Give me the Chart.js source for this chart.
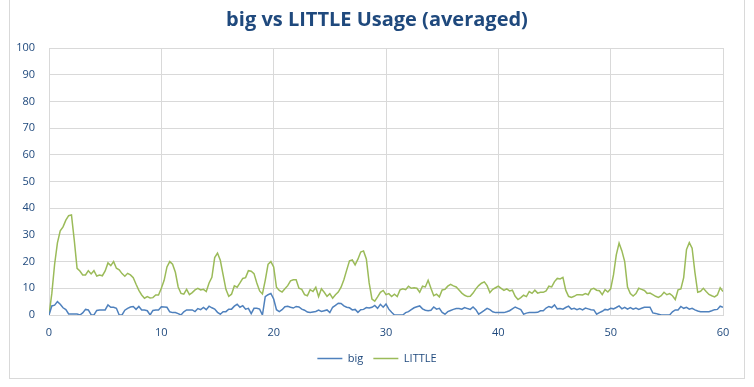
<!DOCTYPE html>
<html>
<head>
<meta charset="utf-8">
<title>big vs LITTLE Usage (averaged)</title>
<script src="https://cdn.jsdelivr.net/npm/chart.js@4/dist/chart.umd.min.js"></script>
<style>
  html, body { margin: 0; padding: 0; background: #fff; }
  #wrap { position: relative; width: 754px; height: 387px; }
  #frame {
    position: absolute; left: 9px; top: -1px; width: 734px; height: 378px;
    border: 1px solid #d9d9d9; pointer-events: none;
  }
  canvas { position: absolute; left: 0; top: 0; }
</style>
</head>
<body>
<div id="wrap">
  <canvas id="chart" width="754" height="387"></canvas>
  <div id="frame"></div>
</div>
<script>
/*jslint browser:true, indent:2*/
/*globals Chart*/
(function () {
  'use strict';

  // samples every 0.25 s, 0..60
  var sampleStep = 0.25;

  var bigUsage = [
    0, 3.4, 3.7, 5, 4, 2.7, 2, 0.4, 0.4, 0.4, 0.4, 0, 0.8, 2.1, 1.9, 0.1,
    0, 1.7, 1.9, 1.9, 1.9, 3.8, 2.9, 2.9, 2.5, 0, 0, 1.8, 2.5, 3, 3.2, 2.1,
    3.2, 1.9, 1.9, 1.6, 0, 1.7, 1.9, 1.9, 3.1, 3, 2.9, 1.2, 0.9, 0.9, 0.5, 0,
    1.2, 1.9, 1.9, 1.9, 1.3, 2.4, 2, 2.8, 2, 3.3, 2.7, 2.2, 1, 0.3, 1.25, 1.25,
    2.2, 2.2, 3.3, 4, 2.9, 3.5, 2.2, 2.5, 0.5, 2.5, 2.5, 2.2, 0, 6.9, 7.6, 8.1,
    6, 2, 1.3, 2, 3.1, 3.3, 2.9, 2.6, 3.2, 3, 2.2, 1.8, 1.1, 0.9, 1.1, 1.3,
    1.8, 1.3, 1.6, 1.9, 0.9, 2.9, 3.6, 4.4, 4.3, 3.4, 2.9, 2.7, 1.9, 2.1, 1, 2,
    2.1, 2.8, 2.6, 2.9, 3.6, 2.5, 4, 2.9, 4.1, 2.2, 1, 0, 0, 0, 0, 0.9,
    1.25, 2, 2.7, 3.1, 3.4, 2.3, 1.8, 1.6, 1.8, 3, 2.2, 2.5, 1, 0.3, 1.25, 1.7,
    2.1, 2.4, 2.4, 2.2, 2.8, 2.4, 2.1, 3, 2, 0.3, 1, 1.7, 2.5, 2, 1.2, 0.9,
    0.9, 0.9, 0.9, 1.2, 1.6, 2.3, 3, 2.5, 2, 0.3, 0.7, 0.9, 0.9, 0.9, 1, 1.6,
    1.6, 2.6, 3.2, 2.8, 3.8, 2.3, 2.4, 2.2, 2.8, 3.3, 2.2, 2.5, 2, 2.4, 1.9, 2.6,
    2.3, 2, 1.9, 0.3, 0.9, 1.4, 2.1, 1.9, 2.5, 2.3, 2.8, 3.4, 2.3, 2.9, 2.2, 2.8,
    2.2, 2.6, 2.1, 2.5, 2.9, 2.9, 2.9, 0.8, 0.6, 0.3, 0, 0, 0, 0, 1.2, 1.9,
    1.9, 3.2, 2.5, 2.9, 2.2, 2.5, 1.9, 1.5, 1.25, 1.25, 1.25, 1.25, 1.6, 2, 2.1, 3.3,
    2.9
  ];

  var littleUsage = [
    0, 8, 19, 27, 31.5, 33, 35.5, 37.2, 37.5, 28, 17.5, 16.5, 15, 15, 16.6, 15.4,
    16.6, 14.6, 15, 14.7, 16.5, 19.5, 18.5, 20, 17.5, 16.9, 15.5, 14.5, 15.6, 15, 14, 11.5,
    9.2, 7.5, 6.3, 6.9, 6.4, 6.5, 7.5, 7.5, 10, 13, 18, 20, 19, 16, 10.5, 8.1,
    7.8, 9.6, 7.6, 8.4, 9.4, 10, 9.4, 9.6, 8.8, 12, 14.1, 21.5, 23.2, 20.5, 15, 9.6,
    7, 7.8, 10.9, 10.4, 12, 13.7, 14, 16.6, 16.4, 15.5, 12, 9, 7.9, 13, 19, 20,
    18, 10.4, 9.2, 8.6, 9.8, 11, 12.8, 13.2, 13.2, 10, 9.6, 7.6, 7.2, 9.5, 8.8, 10.4,
    6.9, 9.8, 8.5, 7, 8, 6.3, 7.6, 8.6, 10.4, 13.2, 16.8, 20.3, 20.6, 18.8, 20.9, 23.6,
    24, 21, 12, 6, 5.2, 6.8, 8.5, 9.2, 7.6, 8, 6.9, 7.8, 6.9, 9.4, 9.8, 9.5,
    10.8, 10, 10.2, 10, 8.5, 10.8, 10.5, 13, 10, 7.2, 7.8, 6.8, 9.4, 9.6, 10.8, 11.5,
    10.9, 10.5, 9.4, 8.2, 7.4, 6.9, 7, 8.2, 9.8, 11, 11.9, 12.4, 11, 8.4, 9.6, 10.2,
    10.8, 10, 9.2, 9.8, 9, 9.3, 7, 5.8, 6.5, 7.4, 6.9, 8.8, 8.1, 9.3, 8.2, 8.5,
    8.5, 9, 10.8, 10.5, 12.5, 13.7, 13.5, 14.1, 9.3, 7, 6.6, 7, 7.6, 7.6, 7.5, 8,
    7.6, 9.6, 10, 9.3, 9.1, 7.6, 9.5, 8.6, 9.8, 15, 22.5, 26.9, 24, 20, 10.5, 8,
    7.1, 8, 10, 9.6, 9.2, 8.1, 8.2, 7.6, 7, 6.6, 7.2, 8.5, 7.6, 8, 7.2, 5.8,
    9.4, 9.8, 14, 24.5, 27.1, 25, 16, 8.5, 8.9, 10, 8.8, 7.7, 7.2, 6.8, 7.5, 10.2,
    8.8
  ];

  var xTicks = [0, 10, 20, 30, 40, 50, 60];
  var yTicks = [0, 10, 20, 30, 40, 50, 60, 70, 80, 90, 100];

  var textColor = '#1f497d';
  var gridColor = '#d9d9d9';
  var font = '"Open Sans", "Liberation Sans", sans-serif';

  function toPoints(values) {
    return values.map(function (v, i) {
      return {x: i * sampleStep, y: v};
    });
  }

  function fixedTicks(list) {
    return function (scale) {
      scale.ticks = list.map(function (v) { return {value: v}; });
    };
  }

  new Chart(document.getElementById('chart'), {
    type: 'line',
    data: {
      datasets: [{
        label: 'big',
        data: toPoints(bigUsage),
        borderColor: '#4f81bd',
        backgroundColor: '#4f81bd',
        borderWidth: 1.5,
        pointRadius: 0,
        pointStyle: 'line',
        tension: 0
      }, {
        label: 'LITTLE',
        data: toPoints(littleUsage),
        borderColor: '#9bbb59',
        backgroundColor: '#9bbb59',
        borderWidth: 1.5,
        pointRadius: 0,
        pointStyle: 'line',
        tension: 0
      }]
    },
    options: {
      responsive: false,
      animation: false,
      events: [],
      layout: {padding: {left: 0, right: 0, top: 0, bottom: 13}},
      plugins: {
        title: {
          display: true,
          text: 'big vs LITTLE Usage (averaged)',
          color: textColor,
          font: {family: font, size: 20, weight: 'bold', lineHeight: 1.2},
          padding: {top: 8, bottom: 16}
        },
        legend: {
          position: 'bottom',
          labels: {
            color: textColor,
            font: {family: font, size: 11},
            usePointStyle: true,
            pointStyleWidth: 25,
            padding: 10
          }
        },
        tooltip: {enabled: false}
      },
      scales: {
        x: {
          type: 'linear',
          min: 0,
          max: 60,
          afterBuildTicks: fixedTicks(xTicks),
          afterFit: function (scale) { scale.height = 28; },
          grid: {color: gridColor, drawTicks: false},
          border: {color: gridColor},
          ticks: {color: textColor, font: {family: font, size: 11}, padding: 11}
        },
        y: {
          min: 0,
          max: 100,
          afterBuildTicks: fixedTicks(yTicks),
          afterFit: function (scale) { scale.width = 49; },
          grid: {color: gridColor, drawTicks: false},
          border: {color: gridColor},
          ticks: {color: textColor, font: {family: font, size: 11}, padding: 14}
        },
        // empty right margin, keeps title and legend centred on the frame
        spacer: {
          type: 'linear',
          position: 'right',
          afterFit: function (scale) { scale.width = 31; },
          grid: {display: false, drawTicks: false},
          border: {display: false},
          ticks: {display: false}
        }
      }
    }
  });
}());
</script>
</body>
</html>
